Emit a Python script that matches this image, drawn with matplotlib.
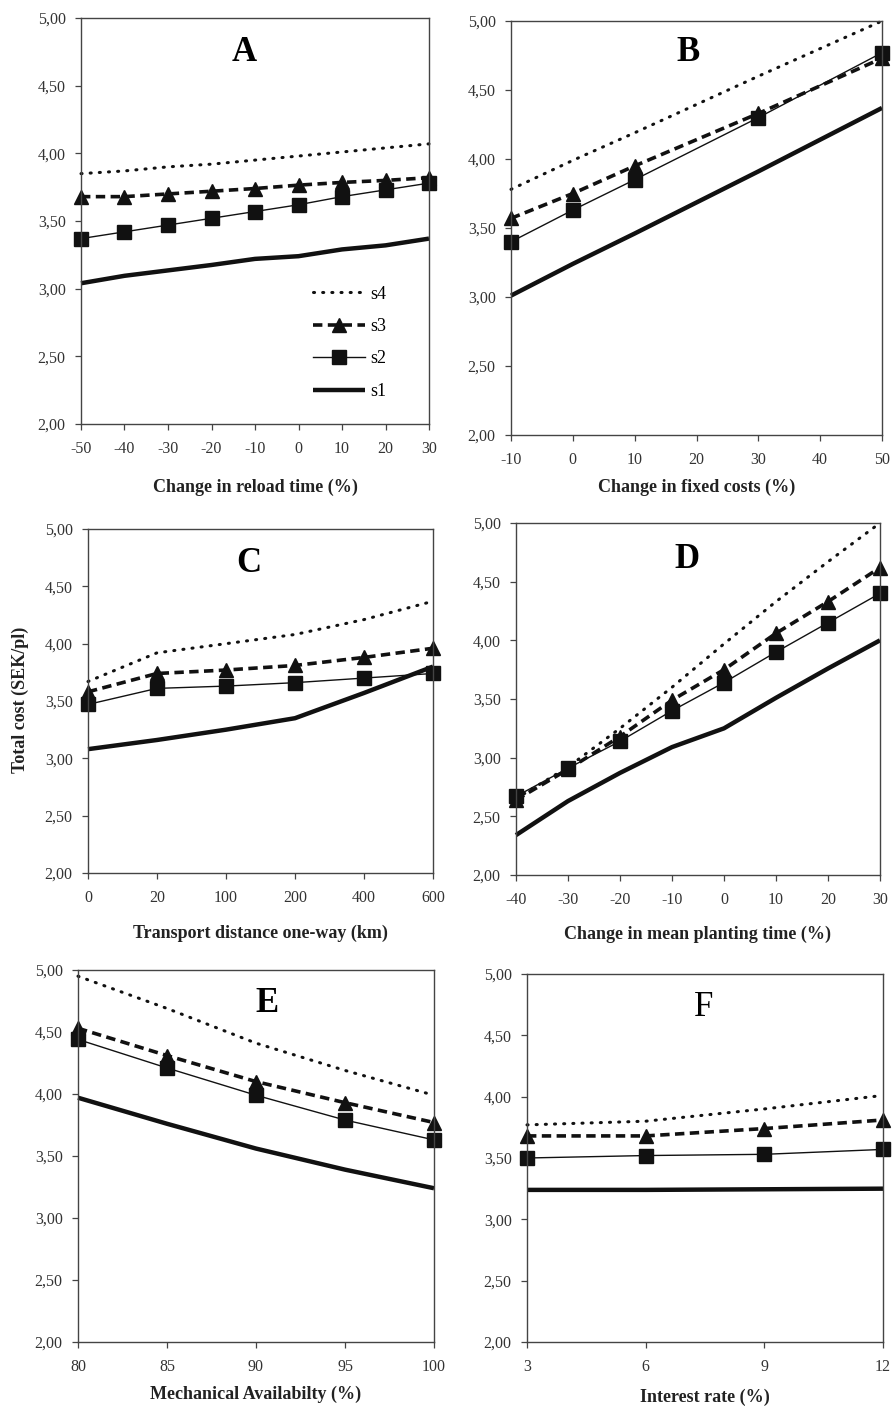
"""Sensitivity analysis of total cost for four systems (s1-s4)."""
import matplotlib
matplotlib.use("Agg")
import matplotlib.pyplot as plt
from matplotlib.ticker import FuncFormatter

plt.rcParams['font.family'] = ['Liberation Serif', 'DejaVu Serif']

# A - reload time
a_x = [-50, -40, -30, -20, -10, 0, 10, 20, 30]
a_s4 = [3.85, 3.87, 3.90, 3.92, 3.95, 3.98, 4.01, 4.04, 4.07]
a_s3 = [3.68, 3.68, 3.70, 3.72, 3.74, 3.765, 3.785, 3.80, 3.82]
a_s2 = [3.37, 3.42, 3.47, 3.52, 3.57, 3.62, 3.68, 3.73, 3.78]
a_s1 = [3.04, 3.095, 3.135, 3.175, 3.22, 3.24, 3.29, 3.32, 3.37]

# B - fixed costs
b_x = [-10, 0, 10, 30, 50]
b_s4 = [3.78, 3.99, 4.19, 4.60, 5.00]
b_s3 = [3.57, 3.75, 3.95, 4.33, 4.73]
b_s2 = [3.40, 3.63, 3.85, 4.30, 4.77]
b_s1 = [3.01, 3.24, 3.46, 3.91, 4.37]

# C - transport distance (categorical axis)
c_labels = ['0', '20', '100', '200', '400', '600']
c_s4 = [3.67, 3.92, 4.00, 4.08, 4.21, 4.37]
c_s3 = [3.58, 3.74, 3.77, 3.81, 3.88, 3.96]
c_s2 = [3.47, 3.61, 3.63, 3.66, 3.70, 3.74]
c_s1 = [3.08, 3.16, 3.25, 3.35, 3.57, 3.80]

# D - mean planting time
d_x = [-40, -30, -20, -10, 0, 10, 20, 30]
d_s4 = [2.65, 2.92, 3.25, 3.60, 3.97, 4.33, 4.67, 5.00]
d_s3 = [2.64, 2.90, 3.18, 3.49, 3.75, 4.06, 4.33, 4.62]
d_s2 = [2.67, 2.91, 3.14, 3.40, 3.64, 3.90, 4.15, 4.40]
d_s1 = [2.34, 2.63, 2.87, 3.09, 3.25, 3.51, 3.76, 4.00]

# E - mechanical availability
e_x = [80, 85, 90, 95, 100]
e_s4 = [4.95, 4.69, 4.41, 4.19, 3.99]
e_s3 = [4.53, 4.31, 4.10, 3.93, 3.77]
e_s2 = [4.44, 4.21, 3.99, 3.79, 3.63]
e_s1 = [3.97, 3.76, 3.56, 3.39, 3.24]

# F - interest rate
f_x = [3, 6, 9, 12]
f_s4 = [3.77, 3.80, 3.90, 4.01]
f_s3 = [3.68, 3.68, 3.74, 3.81]
f_s2 = [3.50, 3.52, 3.53, 3.57]
f_s1 = [3.24, 3.24, 3.245, 3.25]

W, H = 893, 1407


def box(left, right, top, bottom):
    return [left / W, 1 - bottom / H, (right - left) / W, (bottom - top) / H]


def panel(fig, rect, x, s1, s2, s3, s4, xticks, xticklabels, xlabel, label_y,
          letter, letter_pos, letter_weight='bold'):
    ax = fig.add_axes(rect)
    l1, = ax.plot(x, s1, color='#111111', lw=3.2, solid_capstyle='butt', clip_on=False)
    l2, = ax.plot(x, s2, color='#111111', lw=1.0, marker='s', ms=9.5, clip_on=False)
    l3, = ax.plot(x, s3, color='#111111', lw=2.6, dashes=(2.6, 1.5), marker='^', ms=10,
                  clip_on=False)
    l4, = ax.plot(x, s4, color='#111111', lw=2.2, linestyle=(0, (0.35, 2.65)),
                  dash_capstyle='round', clip_on=False)
    ax.set_xlim(xticks[0], xticks[-1])
    ax.set_ylim(2.0, 5.0)
    ax.set_yticks([2.0, 2.5, 3.0, 3.5, 4.0, 4.5, 5.0])
    ax.yaxis.set_major_formatter(FuncFormatter(lambda v, p: f"{v:.2f}".replace('.', ',')))
    ax.set_xticks(xticks)
    ax.set_xticklabels(xticklabels)
    ax.tick_params(axis='both', direction='out', length=4, width=0.9, color='#444444',
                   labelsize=11.5, labelcolor='#333333')
    ax.tick_params(axis='x', pad=8)
    ax.tick_params(axis='y', pad=7)
    for sp in ax.spines.values():
        sp.set_color('#444444')
        sp.set_linewidth(1.0)
    ax.set_xlabel(xlabel, fontsize=13, fontweight='bold', color='#222222')
    ax.xaxis.label.set_va('center')
    ax.xaxis.set_label_coords(0.5, label_y)
    ax.text(letter_pos[0], letter_pos[1], letter, transform=ax.transAxes,
            ha='center', va='center', fontsize=25, fontweight=letter_weight)
    return ax, (l4, l3, l2, l1)


fig = plt.figure(figsize=(W / 100, H / 100), dpi=100)

ax_a, handles = panel(fig, box(81, 429, 18, 424), a_x, a_s1, a_s2, a_s3, a_s4,
                      a_x, [str(v) for v in a_x], 'Change in reload time (%)', -0.155,
                      'A', (0.47, 0.914))
ax_a.legend(handles, ['s4', 's3', 's2', 's1'], loc='center left',
            bbox_to_anchor=(0.667, 0.2), frameon=False, fontsize=13,
            handlelength=2.9, handletextpad=0.25, labelspacing=0.85,
            borderpad=0, borderaxespad=0)

b_ticks = [-10, 0, 10, 20, 30, 40, 50]
panel(fig, box(511, 882, 21, 435), b_x, b_s1, b_s2, b_s3, b_s4,
      b_ticks, [str(v) for v in b_ticks], 'Change in fixed costs (%)', -0.126,
      'B', (0.477, 0.925))

c_x = list(range(len(c_labels)))
ax_c, _ = panel(fig, box(88, 433, 529, 873), c_x, c_s1, c_s2, c_s3, c_s4,
                c_x, c_labels, 'Transport distance one-way (km)', -0.174,
                'C', (0.467, 0.90))
ax_c.set_ylabel('Total cost (SEK/pl)', fontsize=13, fontweight='bold', color='#222222')
ax_c.yaxis.label.set_va('center')
ax_c.yaxis.set_label_coords(-0.197, 0.503)

panel(fig, box(516, 880, 523, 875), d_x, d_s1, d_s2, d_s3, d_s4,
      d_x, [str(v) for v in d_x], 'Change in mean planting time (%)', -0.17,
      'D', (0.47, 0.895))

panel(fig, box(78, 434, 970, 1342), e_x, e_s1, e_s2, e_s3, e_s4,
      e_x, [str(v) for v in e_x], 'Mechanical Availabilty (%)', -0.142,
      'E', (0.53, 0.91))

panel(fig, box(527, 883, 974, 1342), f_x, f_s1, f_s2, f_s3, f_s4,
      f_x, [str(v) for v in f_x], 'Interest rate (%)', -0.15,
      'F', (0.495, 0.91), letter_weight='normal')

fig.savefig("out.png", dpi=100)
